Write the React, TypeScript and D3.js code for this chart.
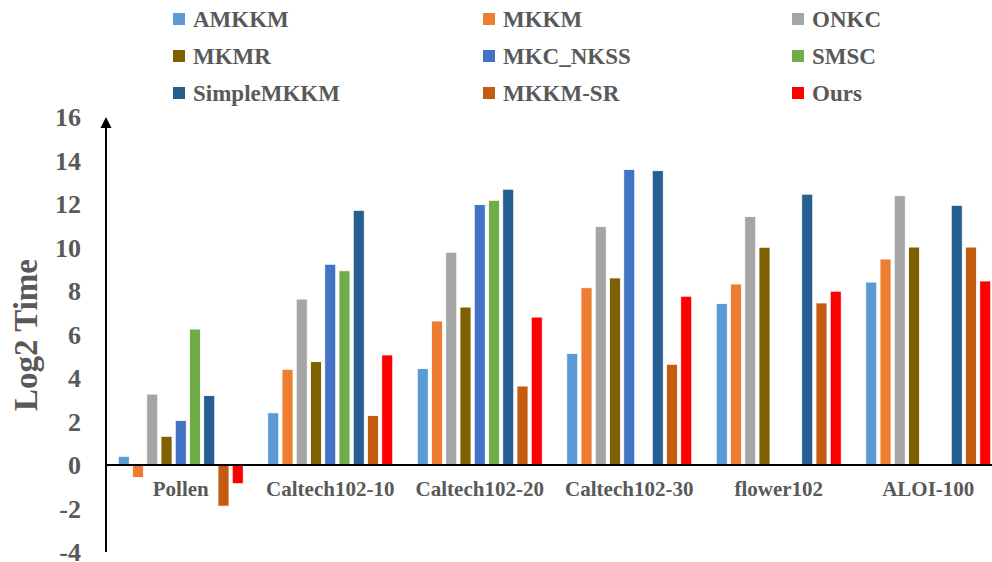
import React from 'react';
import { scaleBand, scaleLinear } from 'd3';

// datasets on the x axis
const categories = ['Pollen', 'Caltech102-10', 'Caltech102-20', 'Caltech102-30', 'flower102', 'ALOI-100'];

// methods, in legend order
const methods = ['AMKKM', 'MKKM', 'ONKC', 'MKMR', 'MKC_NKSS', 'SMSC', 'SimpleMKKM', 'MKKM-SR', 'Ours'];
const colors = ['#5B9BD5', '#ED7D31', '#A5A5A5', '#7F6000', '#4472C4', '#70AD47', '#255E91', '#C55A11', '#FF0000'];

// log2 running time per method, one value per dataset (null = not run)
const amkkm = [0.4, 2.4, 4.43, 5.13, 7.42, 8.41];
const mkkm = [-0.58, 4.4, 6.62, 8.15, 8.32, 9.47];
const onkc = [3.26, 7.63, 9.78, 10.96, 11.42, 12.38];
const mkmr = [1.32, 4.75, 7.26, 8.6, 10.01, 10.02];
const mkcNkss = [2.05, 9.23, 11.97, 13.59, null, null];
const smsc = [6.25, 8.93, 12.17, null, null, null];
const simpleMkkm = [3.19, 11.71, 12.68, 13.53, 12.45, 11.94];
const mkkmSr = [-1.89, 2.27, 3.63, 4.63, 7.45, 10.02];
const ours = [-0.86, 5.06, 6.8, 7.76, 7.99, 8.46];

const values = [amkkm, mkkm, onkc, mkmr, mkcNkss, smsc, simpleMkkm, mkkmSr, ours];

const yTicks = [-4, -2, 0, 2, 4, 6, 8, 10, 12, 14, 16];

const font = '"Liberation Serif", "Times New Roman", serif';
const textColor = '#595959';

export default function App() {
  const width = 992;
  const height = 562;
  const axisX = 106;

  const x0 = scaleBand<string>()
    .domain(categories)
    .range([axisX, axisX + 897])
    .paddingInner(0.164)
    .paddingOuter(0.082);

  const x1 = scaleBand<string>()
    .domain(methods)
    .range([0, x0.bandwidth()])
    .paddingInner(0.228);

  const y = scaleLinear().domain([-4, 16]).range([552, 117]);

  const legendCols = [173, 483, 792];
  const legendRows = [19, 56, 93];

  return (
    <svg
      width={width}
      height={height}
      viewBox={`0 0 ${width} ${height}`}
      style={{ position: 'absolute', left: 0, top: 0, background: '#fff' }}
    >
      {/* legend */}
      {methods.map((m, i) => {
        const lx = legendCols[i % 3];
        const ly = legendRows[Math.floor(i / 3)];
        return (
          <g key={m}>
            <rect x={lx} y={ly - 6} width={12} height={12} fill={colors[i]} />
            <text
              x={lx + 20}
              y={ly + 8}
              fontFamily={font}
              fontWeight="bold"
              fontSize={23}
              fill={textColor}
            >
              {m}
            </text>
          </g>
        );
      })}

      {/* bars */}
      {categories.map((c, ci) => (
        <g key={c} transform={`translate(${x0(c)},0)`}>
          {methods.map((m, mi) => {
            const v = values[mi][ci];
            if (v === null) return null;
            const top = Math.min(y(v), y(0));
            return (
              <rect
                key={m}
                x={x1(m)}
                y={top}
                width={x1.bandwidth()}
                height={Math.abs(y(v) - y(0))}
                fill={colors[mi]}
                stroke="#fff"
                strokeWidth={0.8}
              />
            );
          })}
        </g>
      ))}

      {/* x axis */}
      <line x1={axisX} x2={width} y1={y(0)} y2={y(0)} stroke="#000" strokeWidth={2} />
      {categories.map(c => (
        <text
          key={c}
          x={(x0(c) as number) + x0.bandwidth() / 2}
          y={y(0) + 31}
          textAnchor="middle"
          fontFamily={font}
          fontWeight="bold"
          fontSize={21}
          fill={textColor}
        >
          {c}
        </text>
      ))}

      {/* y axis with arrow */}
      <line x1={axisX} x2={axisX} y1={y(-4)} y2={y(16) + 8} stroke="#000" strokeWidth={2} />
      <path
        d={`M${axisX},${y(16)} L${axisX - 5.5},${y(16) + 11} L${axisX + 5.5},${y(16) + 11} Z`}
        fill="#000"
      />
      {yTicks.map(t => (
        <text
          key={t}
          x={81}
          y={y(t)}
          dy="0.35em"
          textAnchor="end"
          fontFamily={font}
          fontWeight="bold"
          fontSize={26}
          fill={textColor}
        >
          {t}
        </text>
      ))}

      <text
        transform="translate(37,335) rotate(-90)"
        textAnchor="middle"
        fontFamily={font}
        fontWeight="bold"
        fontSize={33}
        fill={textColor}
      >
        Log2 Time
      </text>
    </svg>
  );
}
